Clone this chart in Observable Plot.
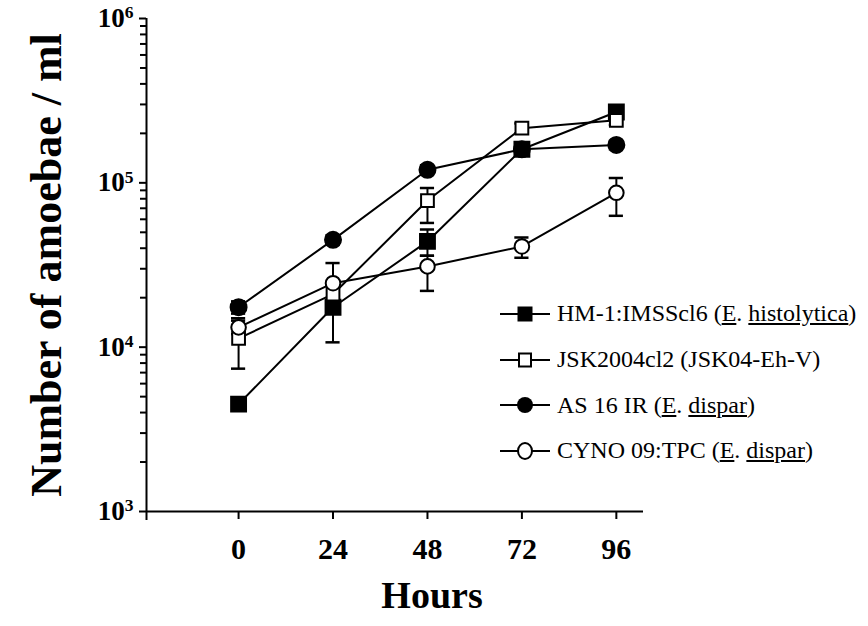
<!DOCTYPE html>
<html>
<head>
<meta charset="utf-8">
<script src="https://cdn.jsdelivr.net/npm/d3@7"></script>
<script src="https://cdn.jsdelivr.net/npm/@observablehq/plot@0.6"></script>
<style>
  html, body { margin: 0; padding: 0; background: #fff; }
  #wrap { position: relative; width: 868px; height: 626px; }
  #legend { position: absolute; left: 500px; top: 291px; font-family: "Liberation Serif", "Times New Roman", serif; font-size: 24px; color: #000; }
  .row { display: flex; align-items: center; height: 45.7px; white-space: nowrap; }
  .row svg { flex: none; margin-right: 7px; }
</style>
</head>
<body>
<div id="wrap"><div id="legend"></div></div>
<script>
// ---- data ----
const hours = [0, 24, 48, 72, 96];
const seriesNames = ["HM-1:IMSScl6", "JSK2004cl2", "AS 16 IR", "CYNO 09:TPC"];
const hmMean   = [4500, 17500, 44000, 160000, 270000];
const hmLow    = [4200, 10700, 36000, 150000, 255000];
const hmHigh   = [4800, 24000, 52000, 170000, 285000];
const jskMean  = [11300, 21000, 78000, 215000, 240000];
const jskLow   = [7400, 18000, 57000, 200000, 225000];
const jskHigh  = [15000, 24000, 93000, 230000, 255000];
const asMean   = [17500, 45000, 120000, 160000, 170000];
const asLow    = [16000, 42000, 112000, 150000, 160000];
const asHigh   = [19000, 48000, 128000, 170000, 180000];
const cynoMean = [13200, 24500, 31000, 41000, 87000];
const cynoLow  = [12000, 18500, 22000, 35000, 63000];
const cynoHigh = [14500, 32500, 36000, 46500, 107000];
const yTicks = [1e3, 1e4, 1e5, 1e6];
const xTicks = [0, 24, 48, 72, 96];

// ---- build table ----
const styles = [
  {symbol: "square", fill: "black", r: 8.4},
  {symbol: "square", fill: "white", r: 7.2},
  {symbol: "circle", fill: "black", r: 8},
  {symbol: "circle", fill: "white", r: 7.3}
];
const means = [hmMean, jskMean, asMean, cynoMean];
const lows = [hmLow, jskLow, asLow, cynoLow];
const highs = [hmHigh, jskHigh, asHigh, cynoHigh];
const rows = [];
seriesNames.forEach((s, i) => hours.forEach((t, j) => rows.push({
  series: s, idx: i, t, v: means[i][j], lo: lows[i][j], hi: highs[i][j]
})));

const xDomain = [-23.4, 102.9];
const capHalf = 1.8;
const serif = "'Liberation Serif', 'Times New Roman', serif";
const minor = [];
for (let k = 3; k < 6; k++) for (let m = 2; m <= 9; m++) minor.push(m * 10 ** k);

const dotMarks = styles.map((st, i) => Plot.dot(rows.filter(d => d.idx === i), {
  x: "t", y: "v", symbol: () => st.symbol, r: st.r, fill: st.fill, stroke: "black", strokeWidth: 2
}));

const plot = Plot.plot({
  width: 868, height: 626,
  marginLeft: 146, marginRight: 225, marginTop: 18, marginBottom: 115,
  style: {fontFamily: serif, color: "black", background: "white", overflow: "visible"},
  x: {domain: xDomain, label: null},
  y: {type: "log", domain: [1e3, 1e6], label: null},
  symbol: {type: "identity"},
  marks: [
    // axis lines
    Plot.ruleY([1e3], {x1: xDomain[0], x2: xDomain[1], stroke: "black", strokeWidth: 2}),
    Plot.ruleX([xDomain[0]], {y1: 1e3, y2: 1e6, stroke: "black", strokeWidth: 2}),
    // minor y ticks
    Plot.axisY(minor, {tickSize: 6, tickFormat: () => "", strokeWidth: 2}),
    Plot.axisY(yTicks, {tickSize: 7, strokeWidth: 2, tickPadding: 6,
      tickFormat: d => "10^" + Math.round(Math.log10(d)),
      fontSize: 27, fontWeight: "bold", fontFamily: serif}),
    Plot.axisX([xDomain[0]], {tickSize: 9, tickFormat: () => "", strokeWidth: 2}),
    Plot.axisX(xTicks, {tickSize: 8, strokeWidth: 2, tickPadding: 18,
      fontSize: 30, fontWeight: "bold", fontFamily: serif}),
    // lines
    Plot.line(rows, {x: "t", y: "v", z: "series", stroke: "black", strokeWidth: 2}),
    // error bars
    Plot.ruleX(rows, {x: "t", y1: "lo", y2: "hi", stroke: "black", strokeWidth: 2}),
    Plot.ruleY(rows, {y: "lo", x1: d => d.t - capHalf, x2: d => d.t + capHalf, stroke: "black", strokeWidth: 2.5}),
    Plot.ruleY(rows, {y: "hi", x1: d => d.t - capHalf, x2: d => d.t + capHalf, stroke: "black", strokeWidth: 2.5}),
    ...dotMarks,
    // axis titles
    Plot.text(["Hours"], {frameAnchor: "bottom", dx: 37, dy: 96, fontSize: 38, fontWeight: "bold", fontFamily: serif}),
    Plot.text(["Number of amoebae / ml"], {frameAnchor: "left", textAnchor: "middle", rotate: -90, dx: -100, fontSize: 44, fontWeight: "bold", fontFamily: serif})
  ]
});

// superscript exponents on y tick labels
d3.select(plot).selectAll("text").each(function() {
  const t = this.textContent;
  const m = /^10\^(\d+)$/.exec(t);
  if (m) {
    const el = d3.select(this);
    el.text("10");
    el.append("tspan").attr("dy", "-0.5em").attr("font-size", "65%").text(m[1]);
  }
});

document.getElementById("wrap").prepend(plot);

// legend
const legendText = [
  'HM-1:IMSScl6 (<u>E</u>. <u>histolytica</u>)',
  'JSK2004cl2 (JSK04-Eh-V)',
  'AS 16 IR (<u>E</u>. <u>dispar</u>)',
  'CYNO 09:TPC (<u>E</u>. <u>dispar</u>)'
];
const leg = document.getElementById("legend");
styles.forEach((st, i) => {
  const row = document.createElement("div");
  row.className = "row";
  const sym = st.symbol === "square"
    ? (st.fill === "black"
        ? '<rect x="17.5" y="2.5" width="15" height="15" fill="black"/>'
        : '<rect x="19" y="3.5" width="12" height="13" fill="white" stroke="black" stroke-width="2"/>')
    : (st.fill === "black"
        ? '<circle cx="25" cy="10" r="8" fill="black"/>'
        : '<ellipse cx="25" cy="10" rx="7" ry="8" fill="white" stroke="black" stroke-width="2"/>');
  row.innerHTML = `<svg width="50" height="20" viewBox="0 0 50 20"><line x1="0" x2="50" y1="10" y2="10" stroke="black" stroke-width="2"/>${sym}</svg><span>${legendText[i]}</span>`;
  leg.appendChild(row);
});
</script>
</body>
</html>
